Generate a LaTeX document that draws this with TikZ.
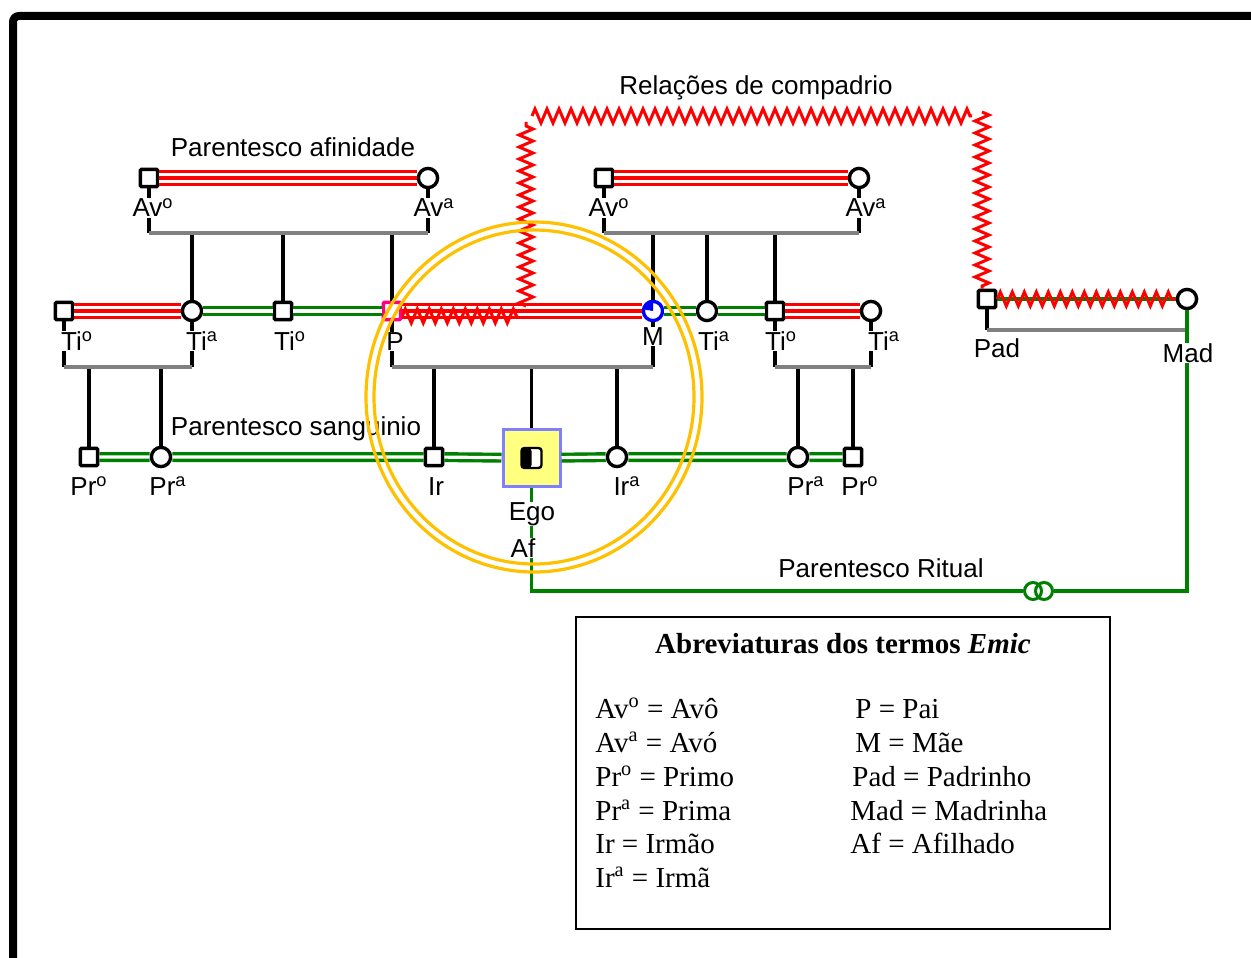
\documentclass[tikz,border=0pt]{standalone}
\usepackage{fontspec}
\setmainfont{Liberation Serif}
\setsansfont{Liberation Sans}
\usetikzlibrary{decorations.pathmorphing}
\definecolor{kinred}{RGB}{255,0,0}
\definecolor{kingreen}{RGB}{0,128,0}
\definecolor{bargray}{RGB}{128,128,128}
\definecolor{ringgold}{RGB}{255,192,0}
\definecolor{egofill}{RGB}{255,255,128}
\definecolor{egoline}{RGB}{128,128,255}
\definecolor{paipink}{RGB}{255,0,128}
\newcommand{\ordm}{\textsuperscript{o}}
\newcommand{\ordf}{\textsuperscript{a}}

\begin{document}
\begin{tikzpicture}[x=0.5pt,y=-0.5pt,
  man/.style={rectangle,draw,line width=1.7pt,fill=white,minimum size=8.6pt,inner sep=0pt,rounded corners=0.5pt},
  woman/.style={circle,draw,line width=1.7pt,fill=white,minimum size=9.6pt,inner sep=0pt},
  ego/.style={rectangle,draw=egoline,fill=egofill,line width=1.5pt,minimum size=28.5pt,inner sep=0pt},
  egomark/.style={rectangle,draw,line width=1.2pt,fill=white,rounded corners=1.5pt,minimum size=10pt,inner sep=0pt,
    path picture={\fill[black] (path picture bounding box.south west) rectangle (path picture bounding box.north);}},
  ringo/.style={circle,draw=kingreen,line width=1.5pt,minimum size=8.5pt,inner sep=0pt},
  tag/.style={font=\sffamily\fontsize{13}{15}\selectfont,fill=white,inner sep=0.3pt,anchor=base},
  title/.style={font=\sffamily\fontsize{13}{15}\selectfont,inner sep=0pt,anchor=base},
  leg/.style={font=\fontsize{14.5}{17}\selectfont,inner sep=0pt,anchor=base west},
  marriage/.style={draw=kinred,line width=8.4pt,postaction={draw=white,line width=5pt},postaction={draw=kinred,line width=1.7pt}},
  blood/.style={draw=kingreen,line width=5pt,postaction={draw=white,line width=1.6pt}},
  ritual/.style={draw=kingreen,line width=1.6pt},
  descent/.style={draw=black,line width=1.6pt},
  sibbar/.style={draw=bargray,line width=2pt},
  compadrio/.style={draw=kinred,line width=1.5pt,decorate,decoration={zigzag,segment length=6pt,amplitude=3.5pt}}]
\useasboundingbox (0,0) rectangle (1251,957);
\draw[line width=4pt,rounded corners=3pt] (13,965) -- (13,16) -- (1260,16);

% avos
\node[man] (avo1) at (149,178) {};
\node[woman] (ava1) at (428,178) {};
\node[man] (avo2) at (604,178) {};
\node[woman] (ava2) at (859,178) {};
% pais e tios
\node[man] (tio1) at (64,311) {};
\node[woman] (tia1) at (192,311) {};
\node[man] (tio2) at (283,311) {};
\node[man,draw=paipink] (pai) at (392,311) {};
\node[woman,draw=blue] (mae) at (653,311) {};
\node[woman] (tia2) at (707,311) {};
\node[man] (tio3) at (775,311) {};
\node[woman] (tia3) at (871,311) {};
% ego, irmaos e primos
\node[man] (pro1) at (89,457) {};
\node[woman] (pra1) at (161,457) {};
\node[man] (irmao) at (434,457) {};
\node[ego] (ego) at (531.5,458) {};
\node[egomark] (egom) at (ego) {};
\node[woman] (irma) at (617,457) {};
\node[woman] (pra2) at (798,457) {};
\node[man] (pro2) at (853,457) {};
% padrinhos
\node[man] (pad) at (987,299) {};
\node[woman] (mad) at (1187,299) {};
\node[ringo] (rng1) at (1033,591) {};
\node[ringo] (rng2) at (1044,591) {};

\fill[blue] (mae.center) -- (mae.north) arc[start angle=90,end angle=180,radius=4.8pt] -- cycle;

\coordinate (b1l) at (149,233);
\coordinate (b1r) at (428,233);
\coordinate (b2l) at (604,233);
\coordinate (b2r) at (859,233);
\coordinate (b3l) at (64,367);
\coordinate (b3r) at (192,367);
\coordinate (b4l) at (392,367);
\coordinate (b4r) at (653,367);
\coordinate (b5l) at (775,367);
\coordinate (b5r) at (871,367);
\coordinate (b6l) at (987,330);
\coordinate (b6r) at (1187,330);

% casamentos
\draw[marriage] (avo1) -- (ava1);
\draw[marriage] (avo2) -- (ava2);
\draw[marriage] (tio1) -- (tia1);
\draw[marriage] (pai) -- (mae);
\draw[marriage] (tio3) -- (tia3);

% consanguineos
\draw[blood] (tia1) -- (tio2) -- (pai);
\draw[blood] (mae) -- (tia2) -- (tio3);
\draw[blood] (pro1) -- (pra1) -- (irmao) -- (ego) -- (irma) -- (pra2) -- (pro2);

% descendencia
\draw[descent] (avo1) -- (b1l);
\draw[descent] (ava1) -- (b1r);
\draw[descent] (avo2) -- (b2l);
\draw[descent] (ava2) -- (b2r);
\draw[descent] (tio1) -- (b3l);
\draw[descent] (tia1) -- (b3r);
\draw[descent] (pai) -- (b4l);
\draw[descent] (mae) -- (b4r);
\draw[descent] (tio3) -- (b5l);
\draw[descent] (tia3) -- (b5r);
\draw[descent] (pad) -- (b6l);
\draw[descent] (tia1 |- b1l) -- (tia1);
\draw[descent] (tio2 |- b1l) -- (tio2);
\draw[descent] (pai |- b1l) -- (pai);
\draw[descent] (mae |- b2l) -- (mae);
\draw[descent] (tia2 |- b2l) -- (tia2);
\draw[descent] (tio3 |- b2l) -- (tio3);
\draw[descent] (pro1 |- b3l) -- (pro1);
\draw[descent] (pra1 |- b3l) -- (pra1);
\draw[descent] (irmao |- b4l) -- (irmao);
\draw[descent] (ego |- b4l) -- (ego);
\draw[descent] (irma |- b4l) -- (irma);
\draw[descent] (pra2 |- b5l) -- (pra2);
\draw[descent] (pro2 |- b5l) -- (pro2);
\draw[sibbar] (b1l) -- (b1r);
\draw[sibbar] (b2l) -- (b2r);
\draw[sibbar] (b3l) -- (b3r);
\draw[sibbar] (b4l) -- (b4r);
\draw[sibbar] (b5l) -- (b5r);
\draw[sibbar] (b6l) -- (b6r);

% parentesco ritual
\draw[ritual] (ego) -- (ego |- rng1) -- (rng1);
\draw[ritual] (rng2) -- (mad |- rng2) -- (mad);
\draw[ritual] (pad) -- (mad);

% compadrio
\coordinate (z1) at (518,316);
\coordinate (z2) at (526,306);
\coordinate (z3) at (526,122);
\coordinate (z4) at (532,116);
\coordinate (z5) at (972,116);
\coordinate (z6) at (982,112);
\draw[compadrio] ([yshift=-2.5pt]pai.east) -- (z1);
\draw[compadrio] (z2) -- (z3);
\draw[compadrio] (z4) -- (z5);
\draw[compadrio] (z6) -- (z6 |- pad.north);
\draw[compadrio] (pad) -- (mad);

% nomes
\node[tag] (lavo1) at (153,217) {Av\ordm};
\node[tag] (lava1) at (434,217) {Av\ordf};
\node[tag] (lavo2) at (609,217) {Av\ordm};
\node[tag] (lava2) at (866,217) {Av\ordf};
\node[tag] (ltio1) at (77,350) {Ti\ordm};
\node[tag] (ltia1) at (202,350) {Ti\ordf};
\node[tag] (ltio2) at (290,350) {Ti\ordm};
\node[tag] (lpai) at (395,350) {P};
\node[tag] (lmae) at (653,345) {M};
\node[tag] (ltia2) at (714,350) {Ti\ordf};
\node[tag] (ltio3) at (781,350) {Ti\ordm};
\node[tag] (ltia3) at (884,350) {Ti\ordf};
\node[tag] (lpro1) at (89,495) {Pr\ordm};
\node[tag] (lpra1) at (168,495) {Pr\ordf};
\node[tag] (lirmao) at (436,495) {Ir};
\node[tag] (lirma) at (627,495) {Ir\ordf};
\node[tag] (lpra2) at (806,495) {Pr\ordf};
\node[tag] (lpro2) at (860,495) {Pr\ordm};
\node[tag] (lego) at (532,520) {Ego};
\node[tag] (laf) at (523,557) {Af};
\node[tag] (lpad) at (997,357) {Pad};
\node[tag] (lmad) at (1188,362) {Mad};

\node[title] (hafin) at (293,157) {Parentesco afinidade};
\node[title] (hcomp) at (756,95) {Relações de compadrio};
\node[title] (hsang) at (296,435) {Parentesco sanguinio};
\node[title] (hrit) at (881,577) {Parentesco Ritual};

% circulo de ego
\draw[ringgold,line width=1.6pt] (534,397) ellipse [x radius=168,y radius=175];
\draw[ringgold,line width=1.6pt] (534,397) ellipse [x radius=160,y radius=167];

% legenda
\node[draw,line width=0.75pt,minimum width=267pt,minimum height=156pt,inner sep=0pt] (legenda) at (843,773) {};
\node[leg,anchor=base,font=\fontsize{14.5}{17}\selectfont\bfseries] (legtit) at (843,653) {Abreviaturas dos termos \textit{Emic}};
\node[leg] (leg1) at (595,718) {Av\ordm{} = Avô};
\node[leg] (leg2) at (595,752) {Av\ordf{} = Avó};
\node[leg] (leg3) at (595,786) {Pr\ordm{} = Primo};
\node[leg] (leg4) at (595,820) {Pr\ordf{} = Prima};
\node[leg] (leg5) at (595,853) {Ir = Irmão};
\node[leg] (leg6) at (595,887) {Ir\ordf{} = Irmã};
\node[leg] (leg7) at (855,718) {P = Pai};
\node[leg] (leg8) at (855,752) {M = Mãe};
\node[leg] (leg9) at (852,786) {Pad = Padrinho};
\node[leg] (leg10) at (850,820) {Mad = Madrinha};
\node[leg] (leg11) at (850,853) {Af = Afilhado};
\end{tikzpicture}
\end{document}
